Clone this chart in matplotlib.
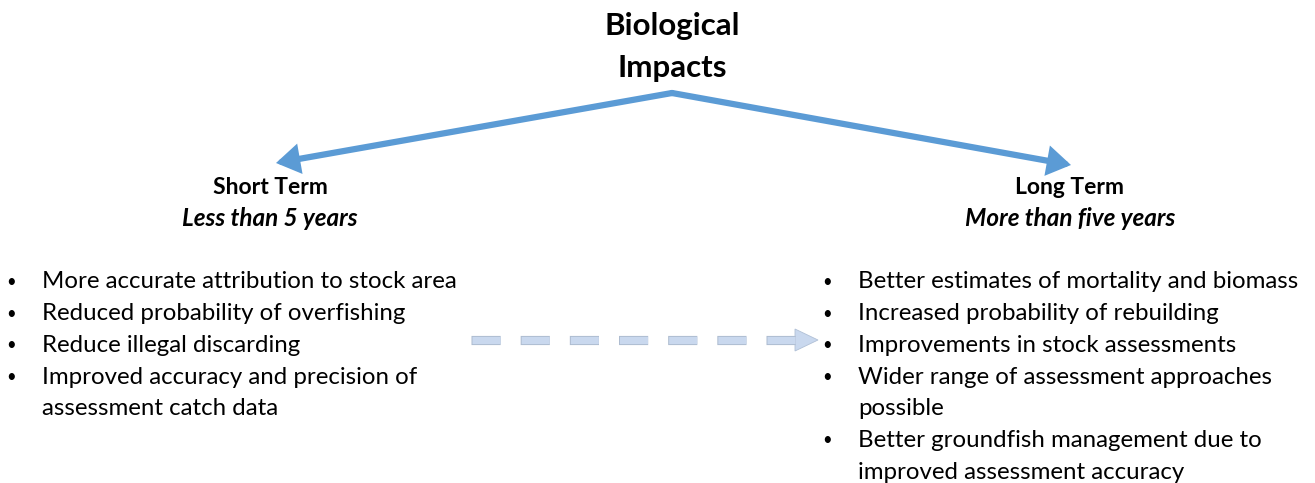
import matplotlib
matplotlib.use("Agg")
import matplotlib.pyplot as plt
from matplotlib.patches import FancyArrowPatch, Polygon

plt.rcParams['font.family'] = ['Lato', 'DejaVu Sans']
plt.rcParams['lines.scale_dashes'] = False

# diagram content
title_lines = ["Biological", "Impacts"]
short_head = "Short Term"
short_sub = "Less than 5 years"
long_head = "Long Term"
long_sub = "More than five years"
short_items = [
    "More accurate attribution to stock area",
    "Reduced probability of overfishing",
    "Reduce illegal discarding",
    "Improved accuracy and precision of\nassessment catch data",
]
long_items = [
    "Better estimates of mortality and biomass",
    "Increased probability of rebuilding",
    "Improvements in stock assessments",
    "Wider range of assessment approaches\npossible",
    "Better groundfish management due to\nimproved assessment accuracy",
]

W, H = 1315, 483
fig = plt.figure(figsize=(W / 100, H / 100), dpi=100)
ax = fig.add_axes([0, 0, 1, 1])
ax.set_xlim(0, W)
ax.set_ylim(H, 0)
ax.axis('off')

blue = '#5B9BD5'
line_h = 31.7

# title
ax.text(672, 26, title_lines[0], ha='center', va='center', fontsize=22.5, fontweight='bold')
ax.text(672, 68, title_lines[1], ha='center', va='center', fontsize=22.5, fontweight='bold')

# two arrows from the peak
peak = (672, 93)
for end in [(276, 163), (1071, 165)]:
    arr = FancyArrowPatch(peak, end, arrowstyle='-|>,head_length=11,head_width=7',
                          color=blue, lw=4.5, shrinkA=0, shrinkB=0, mutation_scale=1,
                          joinstyle='miter', capstyle='round')
    ax.add_patch(arr)

# column headings
ax.text(270, 187, short_head, ha='center', va='center', fontsize=16.5, fontweight='bold')
ax.text(270, 218, short_sub, ha='center', va='center', fontsize=17.5, fontweight='bold', style='italic')
ax.text(1070, 187, long_head, ha='center', va='center', fontsize=16.5, fontweight='bold')
ax.text(1070, 218, long_sub, ha='center', va='center', fontsize=17.5, fontweight='bold', style='italic')


def bullets(items, xb, xt, y0):
    y = y0
    for item in items:
        ax.text(xb, y, u'\u2022', ha='center', va='center', fontsize=12)
        for ln in item.split('\n'):
            ax.text(xt, y, ln, ha='left', va='center', fontsize=17.3)
            y += line_h


bullets(short_items, 11, 42, 282)
bullets(long_items, 827, 858, 282)

# dashed arrow in the middle
ax.plot([471, 797], [340, 340], color='#AEBCD0', lw=6.6, dashes=(21, 14.4),
        solid_capstyle='butt', dash_capstyle='butt')
ax.plot([471.6, 797], [340, 340], color='#C9D8EE', lw=5.2, dashes=(20.2, 15.2),
        solid_capstyle='butt', dash_capstyle='butt')
ax.add_patch(Polygon([(795, 329), (818, 340), (795, 351)], closed=True,
                     facecolor='#C9D8EE', edgecolor='#B0C0D6', lw=0.6))

fig.savefig('out.png', dpi=100)
